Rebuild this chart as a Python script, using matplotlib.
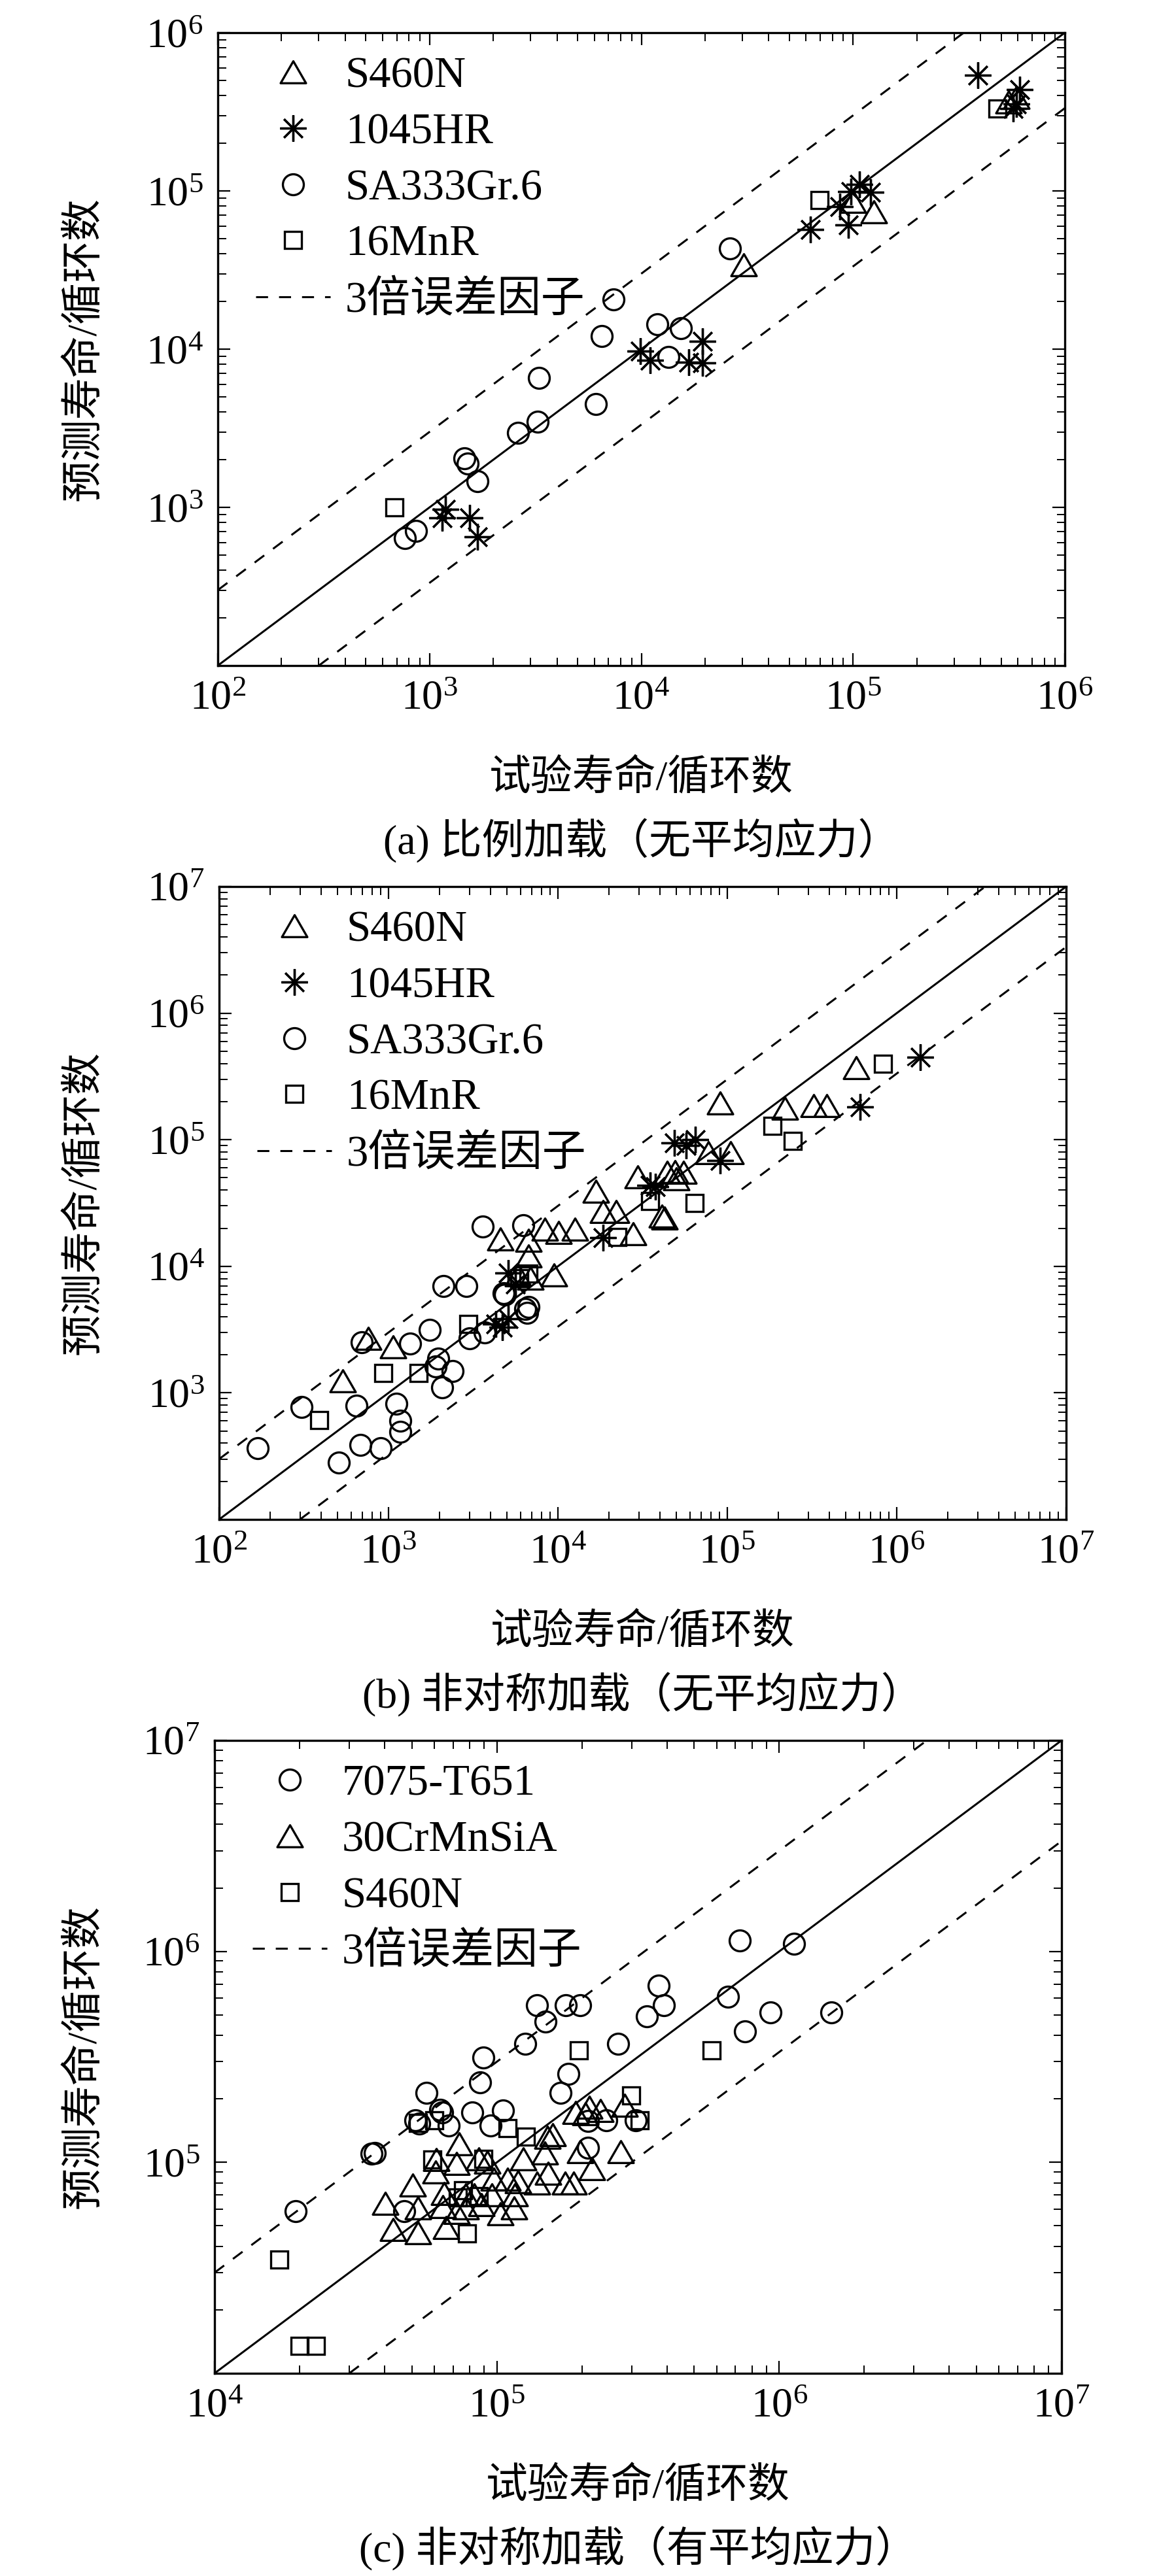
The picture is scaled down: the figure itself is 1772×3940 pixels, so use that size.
import math
import matplotlib
matplotlib.use('Agg')
import matplotlib.pyplot as plt
from matplotlib.path import Path
from matplotlib.ticker import LogLocator, LogFormatterMathtext, NullFormatter, FixedLocator

plt.rcParams['font.family'] = ['Liberation Serif', 'Noto Sans CJK SC']
plt.rcParams['mathtext.fontset'] = 'stix'
plt.rcParams['axes.unicode_minus'] = False

# ---------------- data: panel (a) ----------------
a_s460n_x = [3.04e4, 1.25e5, 1.0e5, 5.43e5, 5.9e5]
a_s460n_y = [3.42e4, 7.35e4, 8.6e4, 3.66e5, 3.89e5]
a_1045_x = [3.89e5, 6.13e5, 5.92e5, 5.7e5, 9.8e4, 1.07e5, 1.21e5, 8.65e4, 9.5e4, 6.3e4,
            9.9e3, 1.1e4, 1.67e4, 1.95e4, 1.95e4, 1.19e3, 1.15e3, 1.55e3, 1.68e3]
a_1045_y = [5.38e5, 4.35e5, 3.54e5, 3.32e5, 9.9e4, 1.1e5, 9.8e4, 7.95e4, 6.07e4, 5.7e4,
            9.7e3, 8.5e3, 8.3e3, 1.12e4, 8.2e3, 968, 856, 860, 653]
a_sa333_x = [767, 865, 1.46e3, 1.51e3, 1.68e3, 2.61e3, 3.24e3, 3.29e3, 6.1e3, 6.5e3,
             7.4e3, 1.19e4, 1.54e4, 1.34e4, 2.63e4]
a_sa333_y = [638, 707, 2.04e3, 1.89e3, 1.47e3, 2.97e3, 3.47e3, 6.6e3, 4.5e3, 1.21e4,
             2.07e4, 1.44e4, 1.36e4, 8.96e3, 4.33e4]
a_16mnr_x = [681, 6.95e4, 4.82e5]
a_16mnr_y = [1.0e3, 8.75e4, 3.32e5]

# ---------------- data: panel (b) ----------------
b_s460n_x = [535, 762, 1.06e3, 4.58e3, 6.7e3, 6.7e3, 8.4e3, 1.01e4, 9.5e3, 1.26e4,
             1.68e4, 1.84e4, 2.2e4, 2.78e4, 4.1e4, 4.26e4, 2.95e4, 4.4e4, 4.9e4, 5.5e4,
             5.0e4, 7.7e4, 1.05e5, 9.06e4, 2.19e5, 3.23e5, 3.87e5, 5.76e5, 5.8e3, 6.9e3]
b_s460n_y = [1.24e3, 2.7e3, 2.3e3, 1.64e4, 1.61e4, 1.2e4, 1.96e4, 1.86e4, 8.5e3, 1.96e4,
             3.9e4, 2.72e4, 2.72e4, 1.81e4, 2.5e4, 2.4e4, 5.1e4, 5.5e4, 5.6e4, 5.5e4,
             4.9e4, 7.9e4, 7.9e4, 1.94e5, 1.78e5, 1.85e5, 1.85e5, 3.72e5, 8.5e3, 8.1e3]
b_1045_x = [4.86e4, 5.7e4, 6.46e4, 9.06e4, 3.77e4, 3.5e4, 1.84e4, 6.08e5, 1.38e6,
            4.3e3, 5.1e3, 5.1e3, 5.6e3, 4.7e3]
b_1045_y = [9.47e4, 9.0e4, 1.0e5, 6.87e4, 4.27e4, 4.36e4, 1.68e4, 1.82e5, 4.47e5,
            3.49e3, 3.85e3, 8.9e3, 7.2e3, 3.3e3]
b_sa333_x = [169, 306, 646, 508, 683, 898, 1.11e3, 1.17e3, 1.17e3, 692, 1.34e3, 1.75e3,
             1.96e3, 2.4e3, 2.07e3, 1.89e3, 3.0e3, 2.11e3, 2.87e3, 4.86e3, 3.7e3, 6.4e3,
             6.6e3, 3.6e3, 6.25e3, 4.77e3, 6.7e3]
b_sa333_y = [366, 772, 790, 282, 388, 366, 820, 603, 490, 2.51e3, 2.46e3, 3.16e3,
             1.86e3, 1.48e3, 1.1e3, 1.62e3, 2.69e3, 7.0e3, 7.0e3, 6.0e3, 3.0e3, 4.6e3,
             4.3e3, 2.06e4, 2.1e4, 6.1e3, 4.8e3]
b_16mnr_x = [389, 929, 1.51e3, 2.95e3, 5.9e3, 6.7e3, 8.3e5, 1.84e5, 2.44e5, 6.4e4,
             3.5e4, 2.25e4]
b_16mnr_y = [610, 1.44e3, 1.44e3, 3.5e3, 8.1e3, 8.8e3, 3.96e5, 1.29e5, 9.8e4, 3.16e4,
             3.28e4, 1.71e4]

# ---------------- data: panel (c) ----------------
c_7075_x = [1.94e4, 3.6e4, 3.7e4, 4.7e4, 5.13e4, 5.3e4, 5.63e4, 6.3e4, 6.4e4, 6.75e4,
            8.2e4, 8.7e4, 8.96e4, 9.5e4, 1.05e5, 1.26e5, 1.39e5, 1.49e5, 1.68e5, 1.75e5,
            1.79e5, 1.97e5, 2.1e5, 2.1e5, 2.44e5, 2.69e5, 3.1e5, 3.4e5, 3.74e5, 3.9e5,
            6.6e5, 7.25e5, 7.55e5, 9.3e5, 1.13e6, 1.53e6]
c_7075_y = [5.86e4, 1.1e5, 1.11e5, 5.86e4, 1.58e5, 1.53e5, 2.13e5, 1.78e5, 1.72e5, 1.5e5,
            1.73e5, 2.4e5, 3.14e5, 1.5e5, 1.76e5, 3.66e5, 5.56e5, 4.65e5, 2.13e5, 5.56e5,
            2.63e5, 5.56e5, 1.17e5, 1.57e5, 1.58e5, 3.66e5, 1.58e5, 4.93e5, 6.86e5, 5.56e5,
            6.08e5, 1.13e6, 4.19e5, 5.14e5, 1.09e6, 5.14e5]
c_30cr_x = [1.9e5, 2.13e5, 2.33e5, 2.06e5, 2.83e5, 1.58e5, 1.51e5, 1.48e5, 1.24e5, 1.97e5,
            2.74e5, 2.17e5, 1.52e5, 1.74e5, 1.87e5, 1.39e5, 1.19e5, 1.09e5, 9.78e4, 1.16e5,
            1.15e5, 1.03e5, 8.8e4, 9.27e4, 8.65e4, 7.36e4, 7.2e4, 6.1e4, 6.06e4, 5.04e4,
            4.03e4, 4.28e4, 5.26e4, 5.26e4, 6.5e4, 6.44e4, 6.6e4, 7.2e4, 7.76e4, 8.3e4,
            7.76e4, 9.6e4]
c_30cr_y = [1.72e5, 1.82e5, 1.76e5, 1.7e5, 1.86e5, 1.35e5, 1.31e5, 1.11e5, 1.04e5, 1.12e5,
            1.12e5, 9.36e4, 8.9e4, 8.0e4, 8.0e4, 8.0e4, 8.1e4, 8.3e4, 8.3e4, 7.0e4,
            6.1e4, 5.7e4, 6.3e4, 1.0e5, 1.04e5, 1.22e5, 9.9e4, 1.03e5, 9.0e4, 7.8e4,
            6.4e4, 4.8e4, 4.64e4, 6.1e4, 7.1e4, 6.17e4, 4.9e4, 5.8e4, 7.0e4, 7.0e4,
            6.1e4, 7.0e4]
c_s460n_x = [1.7e4, 2.0e4, 2.29e4, 1.95e5, 5.77e5, 2.99e5, 3.2e5, 7.85e4, 1.09e5, 1.27e5,
             5.9e4, 6.0e4, 5.26e4, 7.6e4, 8.65e4, 8.96e4, 7.26e4]
c_s460n_y = [3.46e4, 1.35e4, 1.35e4, 3.4e5, 3.4e5, 2.07e5, 1.58e5, 4.6e4, 1.45e5, 1.32e5,
             1.03e5, 1.58e5, 1.54e5, 7.4e4, 6.9e4, 1.04e5, 6.84e4]

# axis ranges, error factor, texts
lim_a = [1e2, 1e6]
lim_b = [1e2, 1e7]
lim_c = [1e4, 1e7]
err_factor = 3
xlabel_txt = '试验寿命/循环数'
ylabel_txt = '预测寿命/循环数'
band_label = '3倍误差因子'
captions = ['(a) 比例加载（无平均应力）', '(b) 非对称加载（无平均应力）', '(c) 非对称加载（有平均应力）']

# ---------------- styles ----------------
W, H = 1772, 3940
fig = plt.figure(figsize=(W / 100, H / 100), dpi=100)

TRI = Path([(0, 0.75), (-0.866, -0.75), (0.866, -0.75), (0, 0.75)],
           [Path.MOVETO, Path.LINETO, Path.LINETO, Path.CLOSEPOLY])
MK = {
    'tri': dict(marker=TRI, ms=28),
    'ast': dict(marker=(8, 2, 0), ms=29),
    'cir': dict(marker='o', ms=23),
    'sq': dict(marker='s', ms=19),
}
MEW = 2.4
FS_TICK = 46
FS_LEG = 48
FS_LAB = 46

# pixel boxes: left, top, width, height
boxes = [(333, 50, 1295, 968), (335, 1356, 1295, 968), (328, 2662, 1295, 968)]


def make_axes(box):
    l, t, w, h = box
    return fig.add_axes([l / W, 1 - (t + h) / H, w / W, h / H])


def pts(ax, x, y, kind, label):
    return ax.plot(x, y, linestyle='none', color='k', mfc='none', mec='k', mew=MEW,
                   label=label, zorder=3, **MK[kind])[0]


def decorate(ax, lim, caption):
    lo, hi = lim
    ax.set_xscale('log')
    ax.set_yscale('log')
    ax.set_xlim(lo, hi)
    ax.set_ylim(lo, hi)
    ax.plot([lo, hi], [lo, hi], color='k', lw=2.2, zorder=2)
    dash = ax.plot([lo, hi / err_factor], [lo * err_factor, hi], color='k', lw=2.2,
                   linestyle=(0, (6.0, 5.5)), zorder=2, label=band_label)[0]
    ax.plot([lo * err_factor, hi], [lo, hi / err_factor], color='k', lw=2.2,
            linestyle=(0, (6.0, 5.5)), zorder=2)
    e0, e1 = int(round(math.log10(lo))), int(round(math.log10(hi)))
    ax.xaxis.set_major_locator(FixedLocator([10.0 ** e for e in range(e0, e1 + 1)]))
    ax.yaxis.set_major_locator(FixedLocator([10.0 ** e for e in range(e0 + 1, e1 + 1)]))
    for axis in (ax.xaxis, ax.yaxis):
        axis.set_major_formatter(LogFormatterMathtext())
        axis.set_minor_locator(LogLocator(base=10, subs=range(2, 10), numticks=20))
        axis.set_minor_formatter(NullFormatter())
    ax.tick_params(which='both', direction='in', top=True, right=True, colors='k')
    ax.tick_params(which='major', length=14, width=1.6, pad=16, labelsize=FS_TICK)
    ax.tick_params(which='minor', length=9, width=1.4)
    for s in ax.spines.values():
        s.set_linewidth(2.4)
    ax.set_xlabel(xlabel_txt, fontsize=FS_LAB, va='center')
    ax.xaxis.set_label_coords(0.5, -174 / 968)
    ax.set_ylabel(ylabel_txt, fontsize=FS_LAB, va='center')
    ax.yaxis.set_label_coords(-(ax.get_position().x0 * W - 130) / 1295, 0.5)
    ax.text(0.5, -268 / 968, caption, transform=ax.transAxes, ha='center', va='center',
            fontsize=FS_LAB)
    return dash


def legend(ax, handles):
    ax.legend(handles=handles, loc='upper left', bbox_to_anchor=(0.045, 0.962),
              frameon=False, fontsize=FS_LEG, handlelength=1.7, handletextpad=0.35,
              labelspacing=0.37, borderpad=0, borderaxespad=0, numpoints=1)


# panel (a)
ax = make_axes(boxes[0])
h1 = pts(ax, a_s460n_x, a_s460n_y, 'tri', 'S460N')
h2 = pts(ax, a_1045_x, a_1045_y, 'ast', '1045HR')
h3 = pts(ax, a_sa333_x, a_sa333_y, 'cir', 'SA333Gr.6')
h4 = pts(ax, a_16mnr_x, a_16mnr_y, 'sq', '16MnR')
d = decorate(ax, lim_a, captions[0])
legend(ax, [h1, h2, h3, h4, d])

# panel (b)
ax = make_axes(boxes[1])
h1 = pts(ax, b_s460n_x, b_s460n_y, 'tri', 'S460N')
h2 = pts(ax, b_1045_x, b_1045_y, 'ast', '1045HR')
h3 = pts(ax, b_sa333_x, b_sa333_y, 'cir', 'SA333Gr.6')
h4 = pts(ax, b_16mnr_x, b_16mnr_y, 'sq', '16MnR')
d = decorate(ax, lim_b, captions[1])
legend(ax, [h1, h2, h3, h4, d])

# panel (c)
ax = make_axes(boxes[2])
h1 = pts(ax, c_7075_x, c_7075_y, 'cir', '7075-T651')
h2 = pts(ax, c_30cr_x, c_30cr_y, 'tri', '30CrMnSiA')
h3 = pts(ax, c_s460n_x, c_s460n_y, 'sq', 'S460N')
d = decorate(ax, lim_c, captions[2])
legend(ax, [h1, h2, h3, d])

fig.savefig('out.png', dpi=100, facecolor='white')
